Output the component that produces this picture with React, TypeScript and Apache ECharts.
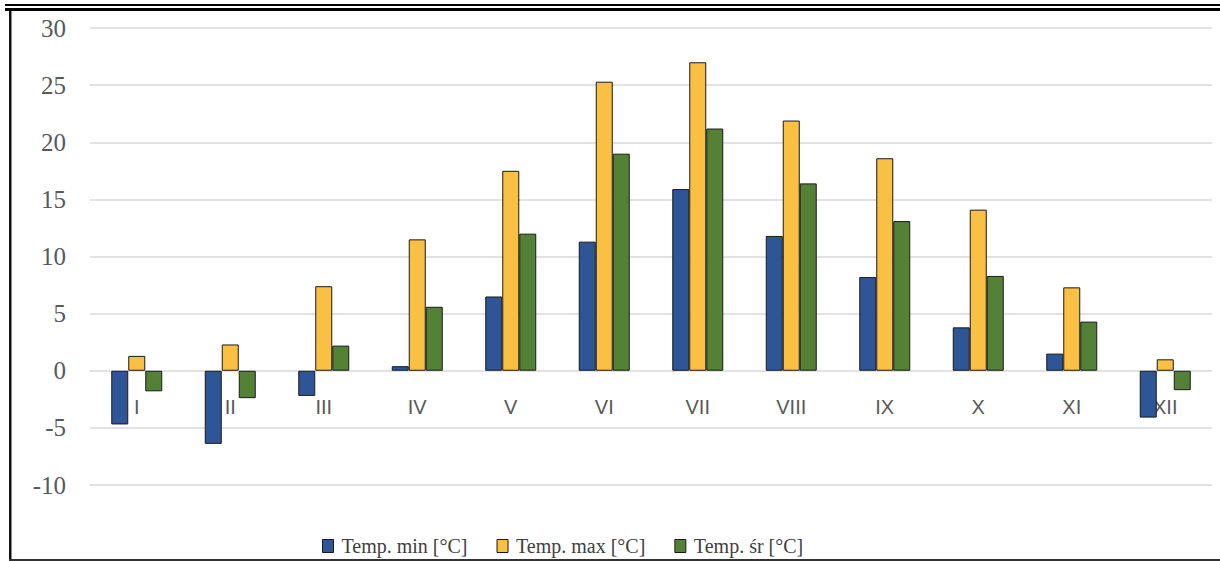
import React, { useEffect, useRef } from "react";
import * as echarts from "echarts";

const months = ["I", "II", "III", "IV", "V", "VI", "VII", "VIII", "IX", "X", "XI", "XII"];
const tempMin = [-4.7, -6.4, -2.2, 0.4, 6.5, 11.3, 15.9, 11.8, 8.2, 3.8, 1.5, -4.1];
const tempMax = [1.3, 2.3, 7.4, 11.5, 17.5, 25.3, 27.0, 21.9, 18.6, 14.1, 7.3, 1.0];
const tempAvg = [-1.8, -2.4, 2.2, 5.6, 12.0, 19.0, 21.2, 16.4, 13.1, 8.3, 4.3, -1.7];
const seriesNames = ["Temp. min [°C]", "Temp. max [°C]", "Temp. śr [°C]"];
const colors = ["#2E5596", "#F9C043", "#538135"];

export default function App() {
  const ref = useRef<HTMLDivElement>(null);
  useEffect(() => {
    document.body.style.margin = "0";
    const chart = echarts.init(ref.current!, null, { renderer: "svg" });
    const data = [tempMin, tempMax, tempAvg];
    chart.setOption({
      animation: false,
      backgroundColor: "#ffffff",
      grid: { left: 90, right: 8, top: 28, bottom: 76, containLabel: false },
      legend: {
        left: 317,
        top: 531,
        itemWidth: 11,
        itemHeight: 13,
        itemGap: 29,
        icon: "rect",
        itemStyle: { borderColor: "#1a1a1a", borderWidth: 1 },
        textStyle: {
          fontFamily: "Liberation Serif",
          fontSize: 20,
          color: "#404040",
          padding: [0, 0, 0, 3],
        },
        data: seriesNames,
      },
      xAxis: {
        type: "category",
        data: months,
        offset: -114.5,
        axisLine: { show: false, onZero: false },
        axisTick: { show: false },
        axisLabel: {
          margin: 26,
          fontFamily: "Liberation Sans",
          fontSize: 20,
          color: "#595959",
        },
      },
      yAxis: {
        type: "value",
        min: -10,
        max: 30,
        interval: 5,
        axisLine: { show: false },
        axisTick: { show: false },
        splitLine: { lineStyle: { color: "#d9d9d9", width: 1.5 } },
        axisLabel: {
          margin: 24,
          fontFamily: "Liberation Serif",
          fontSize: 25,
          color: "#595959",
        },
      },
      series: seriesNames.map((name, i) => ({
        name,
        type: "bar",
        data: data[i],
        barWidth: 17,
        barGap: "0%",
        itemStyle: { color: colors[i], borderColor: "#1a1a1a", borderWidth: 1 },
      })),
      graphic: [
        { type: "rect", shape: { x: 5, y: 4, width: 1215, height: 2 }, style: { fill: "#000" } },
        { type: "rect", shape: { x: 5, y: 8, width: 1215, height: 3 }, style: { fill: "#000" } },
        { type: "rect", shape: { x: 9, y: 11, width: 2.5, height: 550 }, style: { fill: "#111" } },
        { type: "rect", shape: { x: 9, y: 559, width: 1211, height: 2 }, style: { fill: "#333" } },
      ],
    });
    return () => chart.dispose();
  }, []);
  return <div ref={ref} style={{ width: 1220, height: 561 }} />;
}
